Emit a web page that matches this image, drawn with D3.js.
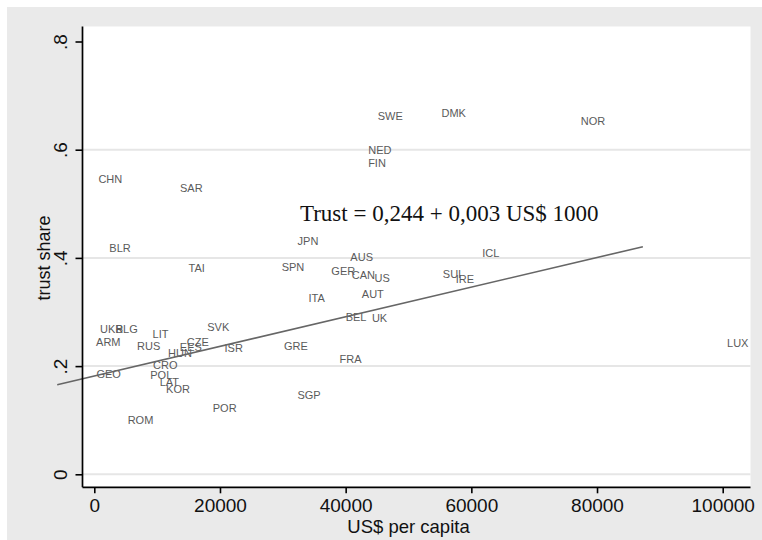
<!DOCTYPE html>
<html>
<head>
<meta charset="utf-8">
<script src="https://cdn.jsdelivr.net/npm/d3@7"></script>
<style>
  html, body { margin: 0; padding: 0; background: #ffffff; }
  svg { display: block; }
</style>
</head>
<body>
<svg id="chart" width="762" height="540"></svg>
<script>
// Country codes, GDP per capita (US$) and share of people who trust others
const countries = ["UKR","BLG","ARM","LIT","RUS","SVK","CZE","EES","HUN","ISR","CRO","GEO","POL","LAT","KOR","POR","ROM",
  "CHN","SAR","BLR","TAI","SPN","JPN","ITA","SWE","DMK","NED","FIN","AUS","GER","CAN","US","AUT","BEL","UK","GRE","FRA","SGP",
  "ICL","SUI","IRE","LUX","NOR"];
const gdpPerCapita = [2770, 5160, 2230, 10530, 8660, 19730, 16470, 15360, 13640, 22180, 11300, 2290, 10660, 11940, 13320, 20750, 7350,
  2550, 15440, 4090, 16300, 31620, 34000, 35390, 47100, 57190, 45460, 44990, 42550, 39620, 42810, 45810, 44320, 41650, 45390, 32070, 40770, 34170,
  63100, 56920, 58990, 102390, 79360];
const trustShare = [0.2686, 0.2686, 0.2451, 0.2588, 0.2377, 0.2728, 0.2440, 0.2360, 0.2237, 0.2329, 0.2020, 0.1854, 0.1835, 0.1712, 0.1571, 0.1220, 0.1004,
  0.5458, 0.5298, 0.4177, 0.3808, 0.3837, 0.4312, 0.3253, 0.6628, 0.6673, 0.5994, 0.5749, 0.4011, 0.3758, 0.3684, 0.3623, 0.3333, 0.2902, 0.2884, 0.2372, 0.2126, 0.1466,
  0.4085, 0.3697, 0.3604, 0.2433, 0.6530];

// Axis ticks
const xTicks = [0, 20000, 40000, 60000, 80000, 100000];
const yTicks = [0, 0.2, 0.4, 0.6, 0.8];
const yGridTicks = [0, 0.2, 0.4, 0.6];
const yTickLabels = ["0", ".2", ".4", ".6", ".8"];

// Fitted line, end points in data units
const fitX = [-5900, 87300];
const fitY = [0.1656, 0.4207];

// Equation annotation and its anchor (data units)
const equationText = "Trust = 0,244 + 0,003 US$ 1000";
const equationAt = [32730, 0.4688];

const xTitle = "US$ per capita";
const yTitle = "trust share";

const svg = d3.select("#chart");
const W = 762, H = 540;

// Frame geometry
const plot = { left: 82.5, right: 750.5, top: 26.5, bottom: 487.3 };

const x = d3.scaleLinear().domain([0, 100000]).range([94.3, 722.7]);
const y = d3.scaleLinear().domain([0, 0.8]).range([474.3, 41.5]);

// Outer graph region (light grey) and inner plot region (white)
svg.append("rect").attr("x", 0).attr("y", 0).attr("width", W).attr("height", H).attr("fill", "#ffffff");
svg.append("rect").attr("x", 7).attr("y", 7).attr("width", W - 7).attr("height", H - 7).attr("fill", "#eaeaea");
svg.append("rect")
  .attr("x", plot.left).attr("y", plot.top)
  .attr("width", plot.right - plot.left).attr("height", plot.bottom - plot.top)
  .attr("fill", "#ffffff");

// Horizontal grid lines
svg.append("g").selectAll("line").data(yGridTicks).join("line")
  .attr("x1", plot.left).attr("x2", plot.right)
  .attr("y1", d => y(d)).attr("y2", d => y(d))
  .attr("stroke", "#e6e6e6").attr("stroke-width", 2);

// Country labels used as markers
svg.append("g").selectAll("text").data(countries).join("text")
  .attr("x", (d, i) => x(gdpPerCapita[i]))
  .attr("y", (d, i) => y(trustShare[i]))
  .attr("text-anchor", "middle")
  .attr("dy", "0.36em")
  .attr("font-family", "'Liberation Sans', Arial, sans-serif")
  .attr("font-size", 11)
  .attr("fill", "#5a5a5a")
  .text(d => d);

// Fitted line
svg.append("line")
  .attr("x1", x(fitX[0])).attr("y1", y(fitY[0]))
  .attr("x2", x(fitX[1])).attr("y2", y(fitY[1]))
  .attr("stroke", "#666666").attr("stroke-width", 1.6);

// Equation
svg.append("text")
  .attr("x", x(equationAt[0])).attr("y", y(equationAt[1]))
  .attr("font-family", "'Liberation Serif', 'Times New Roman', serif")
  .attr("font-size", 23)
  .attr("fill", "#111111")
  .text(equationText);

// X axis
const xAxis = d3.axisBottom(x).tickValues(xTicks).tickSize(6).tickSizeOuter(0).tickPadding(6)
  .tickFormat(d3.format("d"));
const gx = svg.append("g").attr("transform", `translate(0,${plot.bottom})`).call(xAxis);
gx.select(".domain").remove();
gx.selectAll(".tick line").attr("stroke", "#000").attr("stroke-width", 1.6);
gx.selectAll(".tick text")
  .attr("font-family", "'Liberation Sans', Arial, sans-serif")
  .attr("font-size", 19).attr("fill", "#111").attr("dy", "0.68em");
svg.append("line")
  .attr("x1", plot.left).attr("x2", plot.right)
  .attr("y1", plot.bottom).attr("y2", plot.bottom)
  .attr("stroke", "#000").attr("stroke-width", 1.7);

// Y axis with rotated tick labels
const yAxis = d3.axisLeft(y).tickValues(yTicks).tickSize(7).tickSizeOuter(0)
  .tickFormat((d, i) => yTickLabels[i]);
const gy = svg.append("g").attr("transform", `translate(${plot.left},0)`).call(yAxis);
gy.select(".domain").remove();
gy.selectAll(".tick line").attr("stroke", "#000").attr("stroke-width", 1.6);
gy.selectAll(".tick text")
  .attr("x", null).attr("dy", null)
  .attr("text-anchor", "middle")
  .attr("transform", "translate(-15.5,0) rotate(-90)")
  .attr("font-family", "'Liberation Sans', Arial, sans-serif")
  .attr("font-size", 19).attr("fill", "#111");
svg.append("line")
  .attr("x1", plot.left).attr("x2", plot.left)
  .attr("y1", plot.top).attr("y2", plot.bottom)
  .attr("stroke", "#000").attr("stroke-width", 1.7);

// Axis titles
svg.append("text")
  .attr("x", (x(0) + x(100000)) / 2).attr("y", 533)
  .attr("text-anchor", "middle")
  .attr("font-family", "'Liberation Sans', Arial, sans-serif")
  .attr("font-size", 18.5).attr("fill", "#111")
  .text(xTitle);
svg.append("text")
  .attr("transform", `translate(50,${(y(0) + y(0.8)) / 2}) rotate(-90)`)
  .attr("text-anchor", "middle")
  .attr("font-family", "'Liberation Sans', Arial, sans-serif")
  .attr("font-size", 18).attr("fill", "#111")
  .text(yTitle);
</script>
</body>
</html>
